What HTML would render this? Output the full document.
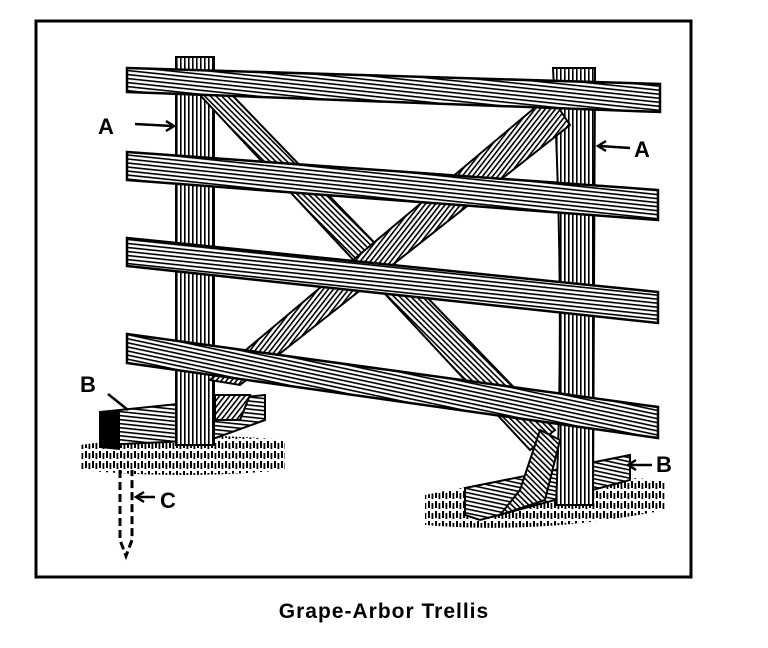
<!DOCTYPE html>
<html><head><style>
body{margin:0;background:#fff;width:768px;height:648px;overflow:hidden}
.cap{position:absolute;left:0;width:768px;top:600px;text-align:center;font:bold 21px "Liberation Sans",sans-serif;letter-spacing:1px}
</style></head><body>
<svg width="768" height="648" style="position:absolute;left:0;top:0">
<defs>
<pattern id="h" width="6" height="4" patternUnits="userSpaceOnUse" patternTransform="rotate(6)">
<rect width="6" height="4" fill="#fff"/><rect y="0" width="6" height="1.6" fill="#000"/></pattern>
<pattern id="h2" width="6" height="4" patternUnits="userSpaceOnUse" patternTransform="rotate(12)">
<rect width="6" height="4" fill="#fff"/><rect y="0" width="6" height="1.6" fill="#000"/></pattern>
<pattern id="v" width="4" height="6" patternUnits="userSpaceOnUse">
<rect width="4" height="6" fill="#fff"/><rect width="1.6" height="6" fill="#000"/></pattern>
<pattern id="d1" width="4" height="6" patternUnits="userSpaceOnUse" patternTransform="rotate(-45)">
<rect width="4" height="6" fill="#fff"/><rect width="1.6" height="6" fill="#000"/></pattern>
<pattern id="d2" width="4" height="6" patternUnits="userSpaceOnUse" patternTransform="rotate(38)">
<rect width="4" height="6" fill="#fff"/><rect width="1.6" height="6" fill="#000"/></pattern>
<pattern id="g" width="7" height="10" patternUnits="userSpaceOnUse">
<rect width="7" height="10" fill="#fff"/><rect x="1" y="1" width="2" height="7" fill="#000"/><rect x="4.5" y="3" width="1.8" height="6" fill="#000"/></pattern>
</defs>
<rect x="36" y="21" width="655" height="556" fill="none" stroke="#000" stroke-width="3"/>
<path d="M80 445 Q180 430 285 440 L285 470 Q180 480 80 470Z" fill="url(#g)"/>
<path d="M425 495 Q540 470 665 480 L665 510 Q540 535 425 525Z" fill="url(#g)"/>
<path d="M100 412 L265 395 L265 420 L210 440 L100 445Z" fill="url(#h)" stroke="#000" stroke-width="2"/>
<path d="M100 412 L120 410 L120 450 L100 448Z" fill="#000"/>
<path d="M465 488 L630 455 L630 480 L480 520 L465 515Z" fill="url(#h2)" stroke="#000" stroke-width="2"/>
<rect x="176" y="57" width="38" height="388" fill="url(#v)" stroke="#000" stroke-width="2"/>
<path d="M553 68 L595 68 L593 505 L556 505 Q565 300 553 68Z" fill="url(#v)" stroke="#000" stroke-width="2"/>
<path d="M200 95 L232 95 L555 430 L530 450 Z" fill="url(#d1)" stroke="#000" stroke-width="2"/>
<path d="M550 95 L570 125 L240 385 L210 380 Z" fill="url(#d2)" stroke="#000" stroke-width="2"/>
<path d="M540 430 L560 440 L545 500 L500 515 L520 490Z" fill="url(#d1)" stroke="#000" stroke-width="2"/>
<path d="M215 395 L250 395 L240 420 L215 420Z" fill="url(#d2)" stroke="#000" stroke-width="2"/>
<path d="M127 68 L660 84 L660 112 L127 92Z" fill="url(#h)" stroke="#000" stroke-width="2.5"/>
<path d="M127 152 L658 190 L658 220 L127 180Z" fill="url(#h)" stroke="#000" stroke-width="2.5"/>
<path d="M127 238 L658 292 L658 323 L127 266Z" fill="url(#h)" stroke="#000" stroke-width="2.5"/>
<path d="M127 334 L658 407 L658 438 L127 363Z" fill="url(#h2)" stroke="#000" stroke-width="2.5"/>
<path d="M120 470 L120 540 L126 556 L132 540 L132 470" fill="none" stroke="#000" stroke-width="3" stroke-dasharray="8 4"/>
<g font-family="Liberation Sans,sans-serif" font-weight="bold" font-size="22">
<text x="98" y="134">A</text><text x="634" y="157">A</text>
<text x="80" y="392">B</text><text x="656" y="472">B</text>
<text x="160" y="508">C</text></g>
<g stroke="#000" stroke-width="2.5" fill="none">
<path d="M135 124 L172 126"/><path d="M166 121 L174 126 L166 131"/>
<path d="M630 148 L600 146"/><path d="M606 141 L598 146 L606 151"/>
<path d="M108 394 L128 410"/>
<path d="M652 465 L630 465"/><path d="M636 460 L628 465 L636 470"/>
<path d="M155 497 L138 497"/><path d="M144 492 L136 497 L144 502"/>
</g>
</svg>
<div class="cap">Grape-Arbor Trellis</div>
</body></html>
